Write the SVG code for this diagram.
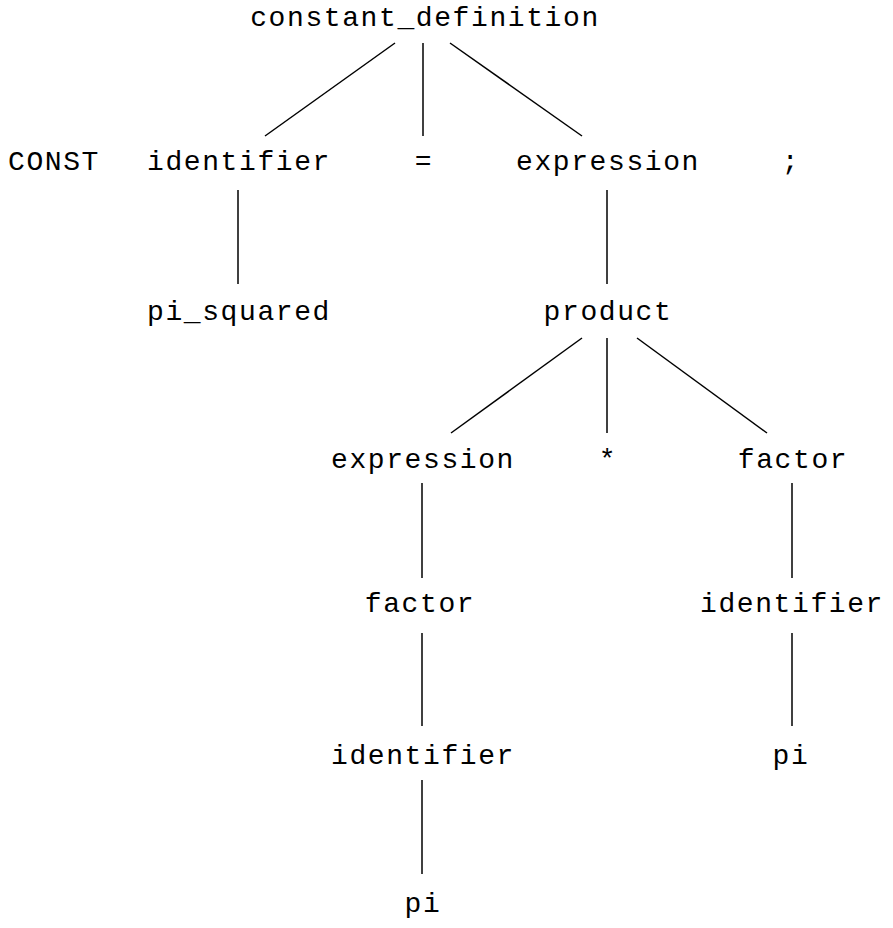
<svg xmlns="http://www.w3.org/2000/svg" width="893" height="928" viewBox="0 0 893 928">
<style>
text{font-family:"Liberation Mono","Courier New",monospace;font-size:28px;letter-spacing:1.6px;fill:#000;text-anchor:middle}
line{stroke:#000;stroke-width:1.5}
</style>
<rect width="893" height="928" fill="#fff"/>
<g id="connectors">
<line x1="395" y1="43" x2="265" y2="136"/>
<line x1="423" y1="43" x2="423" y2="136"/>
<line x1="450" y1="43" x2="582" y2="136"/>
<line x1="238" y1="190" x2="238" y2="284"/>
<line x1="607" y1="190" x2="607" y2="284"/>
<line x1="582" y1="338" x2="451" y2="433"/>
<line x1="607" y1="338" x2="607" y2="433"/>
<line x1="637" y1="338" x2="767" y2="433"/>
<line x1="422" y1="483" x2="422" y2="578"/>
<line x1="792" y1="483" x2="792" y2="578"/>
<line x1="422" y1="633" x2="422" y2="726"/>
<line x1="792" y1="633" x2="792" y2="726"/>
<line x1="422" y1="780" x2="422" y2="874"/>
</g>
<g id="n_constant_definition"><text x="425" y="26">constant_definition</text></g>
<g id="n_const"><text x="54" y="170">CONST</text></g>
<g id="n_identifier1"><text x="239" y="170">identifier</text></g>
<g id="n_eq"><text x="424" y="170">=</text></g>
<g id="n_expression1"><text x="608" y="170">expression</text></g>
<g id="n_semi"><text x="791" y="170">;</text></g>
<g id="n_pi_squared"><text x="239" y="320">pi_squared</text></g>
<g id="n_product"><text x="608" y="320">product</text></g>
<g id="n_expression2"><text x="423" y="468">expression</text></g>
<g id="n_star"><text x="608" y="468">*</text></g>
<g id="n_factor1"><text x="793" y="468">factor</text></g>
<g id="n_factor2"><text x="420" y="612">factor</text></g>
<g id="n_identifier2"><text x="792" y="612">identifier</text></g>
<g id="n_identifier3"><text x="423" y="764">identifier</text></g>
<g id="n_pi1"><text x="791" y="764">pi</text></g>
<g id="n_pi2"><text x="423" y="912">pi</text></g>
</svg>
